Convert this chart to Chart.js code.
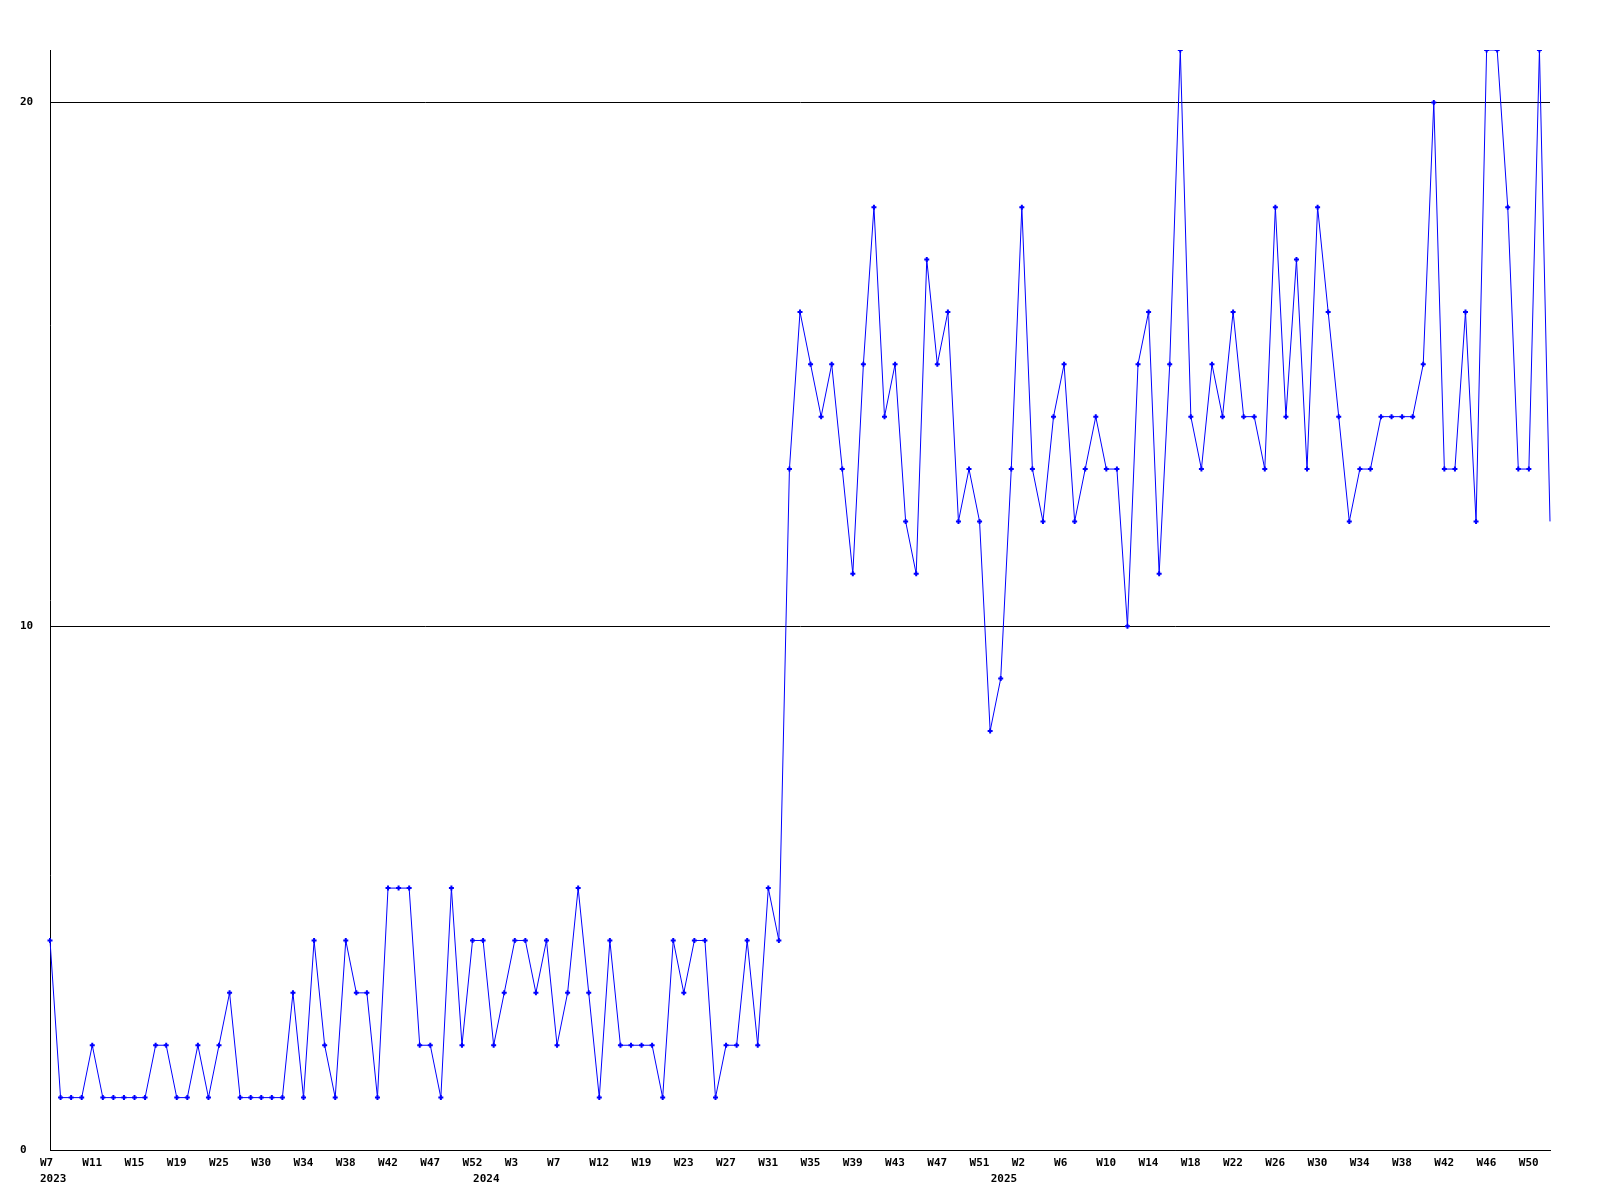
<!DOCTYPE html>
<html>
<head>
<meta charset="utf-8">
<title>Weekly count</title>
<script src="https://cdn.jsdelivr.net/npm/chart.js@4.4.1/dist/chart.umd.min.js"></script>
<style>
    html, body { margin: 0; padding: 0; background: #ffffff; }
    #chart { display: block; }
</style>
</head>
<body>
<canvas id="chart" width="1600" height="1200"></canvas>
<script>
// Data (one point per reported week, 2023 W7 .. 2025)
const values = [
    4, 1, 1, 1, 2, 1, 1, 1, 1, 1, 2, 2, 1, 1, 2, 1, 2, 3, 1, 1,
    1, 1, 1, 3, 1, 4, 2, 1, 4, 3, 3, 1, 5, 5, 5, 2, 2, 1, 5, 2,
    4, 4, 2, 3, 4, 4, 3, 4, 2, 3, 5, 3, 1, 4, 2, 2, 2, 2, 1, 4,
    3, 4, 4, 1, 2, 2, 4, 2, 5, 4, 13, 16, 15, 14, 15, 13, 11, 15, 18, 14,
    15, 12, 11, 17, 15, 16, 12, 13, 12, 8, 9, 13, 18, 13, 12, 14, 15, 12, 13, 14,
    13, 13, 10, 15, 16, 11, 15, 21, 14, 13, 15, 14, 16, 14, 14, 13, 18, 14, 17, 13,
    18, 16, 14, 12, 13, 13, 14, 14, 14, 14, 15, 20, 13, 13, 16, 12, 21, 21, 18, 13,
    13, 21, 12
];

// Week labels shown under every 4th point
const tickLabels = [
    'W7', 'W11', 'W15', 'W19', 'W25', 'W30', 'W34', 'W38', 'W42', 'W47', 'W52',
    'W3', 'W7', 'W12', 'W19', 'W23', 'W27', 'W31', 'W35', 'W39', 'W43', 'W47', 'W51',
    'W2', 'W6', 'W10', 'W14', 'W18', 'W22', 'W26', 'W30', 'W34', 'W38', 'W42', 'W46', 'W50'
];
const TICK_EVERY = 4;

// Year labels and the point where each year starts
const years = ['2023', '2024', '2025'];
const yearStarts = [0, 41, 90];

const categories = values.map((_, i) => i);

const FONT = { family: '"DejaVu Sans Mono", monospace', size: 11, weight: 'bold' };
const BLUE = '#0000ff';

function weekTick(value, index) {
    if (index % TICK_EVERY !== 0) return '';
    return tickLabels[index / TICK_EVERY] || '';
}

function yearTick(value, index) {
    const pos = yearStarts.indexOf(index);
    return pos >= 0 ? years[pos] : '';
}

// Chart.js Setup
function initChart() {
    const ctx = document.getElementById('chart').getContext('2d');
    return new Chart(ctx, {
        type: 'line',
        data: {
            labels: categories,
            datasets: [{
                data: values,
                borderColor: BLUE,
                backgroundColor: BLUE,
                borderWidth: 1,
                tension: 0,
                fill: false,
                pointStyle: 'cross',
                // the last point sits on the right edge without a marker
                pointRadius: c => c.dataIndex === values.length - 1 ? 0 : 2.5,
                pointBorderWidth: 2,
                pointBorderColor: BLUE
            }]
        },
        options: {
            responsive: false,
            animation: false,
            devicePixelRatio: 1,
            layout: { padding: { top: 50, right: 50, bottom: 0, left: 20 } },
            plugins: {
                legend: { display: false },
                tooltip: { enabled: false }
            },
            scales: {
                x: {
                    weight: 0,
                    grid: { display: false, drawTicks: false },
                    border: { display: true, color: '#000000', width: 1 },
                    ticks: {
                        autoSkip: false,
                        maxRotation: 0,
                        minRotation: 0,
                        align: 'start',
                        labelOffset: -10,
                        padding: 7,
                        color: '#000000',
                        font: FONT,
                        callback: weekTick
                    },
                    afterFit: scale => { scale.height = 23; }
                },
                x2: {
                    type: 'category',
                    position: 'bottom',
                    weight: 1,
                    grid: { display: false, drawTicks: false },
                    border: { display: false },
                    ticks: {
                        autoSkip: false,
                        maxRotation: 0,
                        minRotation: 0,
                        align: 'start',
                        labelOffset: -10,
                        padding: 0,
                        color: '#000000',
                        font: FONT,
                        callback: yearTick
                    },
                    afterFit: scale => { scale.height = 27; }
                },
                y: {
                    min: 0,
                    max: 21,
                    grid: { color: '#000000', lineWidth: 1, drawTicks: false },
                    border: { display: true, color: '#000000', width: 1 },
                    ticks: {
                        stepSize: 10,
                        includeBounds: false,
                        crossAlign: 'far',
                        color: '#000000',
                        font: FONT
                    },
                    afterFit: scale => { scale.width = 30; }
                }
            }
        }
    });
}

initChart();
</script>
</body>
</html>
